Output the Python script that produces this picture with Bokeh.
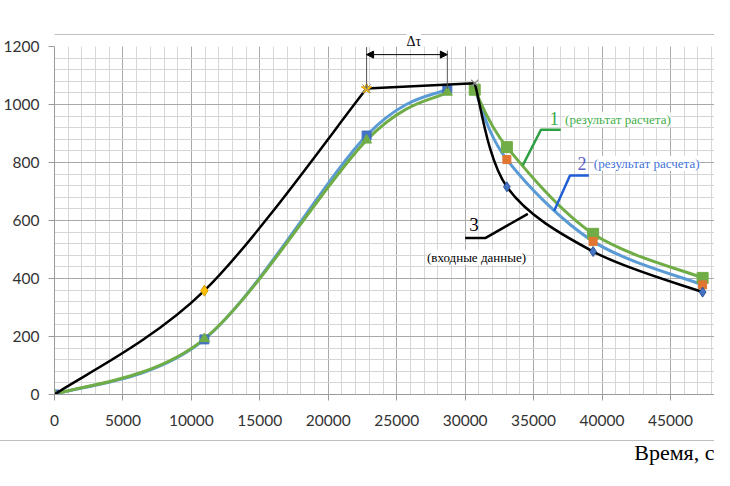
from bokeh.plotting import figure
from bokeh.models import (Label, Arrow, NormalHead, SingleIntervalTicker, Range1d, Title,
                          LinearAxis, FixedTicker)
from bokeh.embed import file_html
from bokeh.resources import INLINE

# ---------------- data ----------------
x_rise = [0, 10950, 22800, 28700]
green_rise = [0, 192, 877, 1042]
blue_rise = [0, 190, 893, 1054]

x_fall = [30700, 33050, 39350, 47350]
green_fall = [1051, 853, 554, 402]
blue_fall = [1051, 810, 528, 378]

x_in_rise = [0, 10950, 22800]
black_rise = [0, 358, 1055]
x_in_flat = [22800, 30700]
black_flat = [1055, 1073]
x_in_fall = [30700, 33050, 39350, 47350]
black_fall = [1073, 716, 493, 353]

x_tick_step = 5000
y_tick_step = 200
x_max = 48218
y_max = 1200

GREEN = "#70AD47"
BLUE = "#5B9BD5"
DBLUE = "#4472C4"
ORANGE = "#E07632"
GOLD = "#FFC000"
RULE = "#bfbfbf"


def smooth(xs, ys):
    """Bezier segments (Catmull-Rom style, like Excel's smoothed line) through the points."""
    n = len(xs)
    d = dict(x0=[], y0=[], x1=[], y1=[], cx0=[], cy0=[], cx1=[], cy1=[])
    for i in range(n - 1):
        xp, yp = (xs[i - 1], ys[i - 1]) if i > 0 else (xs[i], ys[i])
        xn, yn = (xs[i + 2], ys[i + 2]) if i + 2 < n else (xs[i + 1], ys[i + 1])
        d["x0"].append(xs[i]); d["y0"].append(ys[i])
        d["x1"].append(xs[i + 1]); d["y1"].append(ys[i + 1])
        d["cx0"].append(xs[i] + (xs[i + 1] - xp) / 6.0)
        d["cy0"].append(ys[i] + (ys[i + 1] - yp) / 6.0)
        d["cx1"].append(xs[i + 1] - (xn - xs[i]) / 6.0)
        d["cy1"].append(ys[i + 1] - (yn - ys[i]) / 6.0)
    return d


p = figure(width=714, height=478, output_backend="svg", toolbar_location=None,
           x_range=Range1d(0, x_max), y_range=Range1d(0, y_max),
           min_border_left=47, min_border_right=0, min_border_top=46, min_border_bottom=84)
p.title.visible = False
p.outline_line_color = None
p.background_fill_color = "white"
p.border_fill_color = None
# thin grey rule of the surrounding document box (y = 440 px)
p.styles = {
    "background-color": "white",
    "background-image": (f"linear-gradient(to bottom, transparent 0px, transparent 440px, "
                         f"{RULE} 440px, {RULE} 441px, transparent 441px, transparent 100%)"),
    "background-size": "100% 100%",
    "background-repeat": "no-repeat",
}

p.xaxis.ticker = SingleIntervalTicker(interval=x_tick_step, num_minor_ticks=5)
p.yaxis.ticker = SingleIntervalTicker(interval=y_tick_step, num_minor_ticks=5)
for g in (p.xgrid, p.ygrid):
    g.grid_line_color = "#a9a9a9"
    g.grid_line_width = 1
    g.minor_grid_line_color = "#d6d6d6"
    g.minor_grid_line_width = 1
for ax in (p.xaxis, p.yaxis):
    ax.axis_line_color = "#9a9a9a"
    ax.major_tick_line_color = "#9a9a9a"
    ax.minor_tick_line_color = None
    ax.major_tick_in = 0
    ax.major_tick_out = 6
    ax.major_label_text_font = "Lato"
    ax.major_label_text_font_size = "15.5px"
    ax.major_label_text_color = "#333333"
p.yaxis.major_label_standoff = 9
p.xaxis.major_label_standoff = 14

# ---- computed curves ----
for xs, ys, col in ((x_rise, blue_rise, BLUE), (x_rise, green_rise, GREEN)):
    p.bezier(line_color=col, line_width=3, **smooth(xs, ys))
p.scatter(x_rise, blue_rise, marker="square", size=9, fill_color=DBLUE, line_color=DBLUE)
p.scatter(x_rise, green_rise, marker="triangle", size=10, fill_color=GREEN, line_color=GREEN)

p.bezier(line_color=BLUE, line_width=3, **smooth(x_fall, blue_fall))
p.bezier(line_color=GREEN, line_width=3, **smooth(x_fall, green_fall))
p.scatter(x_fall, green_fall, marker="square", size=11, fill_color=GREEN, line_color=GREEN)
p.scatter(x_fall[1:], blue_fall[1:], marker="square", size=8, fill_color=ORANGE, line_color=ORANGE)

# ---- input data (black) ----
p.bezier(line_color="black", line_width=2.5, **smooth(x_in_rise, black_rise))
p.line(x_in_flat, black_flat, line_color="black", line_width=2.5)
p.bezier(line_color="black", line_width=2.5, **smooth(x_in_fall, black_fall))
p.scatter(x_in_rise[1:2], black_rise[1:2], marker="diamond", size=11, fill_color=GOLD, line_color="#d9a000")
p.scatter(x_in_rise[2:], black_rise[2:], marker="star", size=11, fill_color=GOLD, line_color="#d9a000")
p.scatter(x_in_rise[2:], black_rise[2:], marker="x", size=12, line_color="#8c8c8c", line_width=1)
p.scatter(x_in_flat[1:], black_flat[1:], marker="x", size=10, line_color="#8c8c8c", line_width=1.2)
p.scatter(x_in_fall[1:], black_fall[1:], marker="diamond", size=10, fill_color=DBLUE, line_color="#2f5597")

# ---- Δτ dimension ----
dt_left = x_in_rise[2]
dt_right = x_rise[3]
p.segment(x0=[dt_left, dt_right], y0=[black_rise[2], blue_rise[3]],
          x1=[dt_left, dt_right], y1=[1198, 1186], line_color="#555555", line_width=1)
p.add_layout(Arrow(x_start=dt_left, y_start=1172, x_end=dt_right, y_end=1172,
                   line_color="black", line_width=1,
                   start=NormalHead(size=7, fill_color="black", line_color="black"),
                   end=NormalHead(size=7, fill_color="black", line_color="black")))
p.add_layout(Title(text="Δτ", align="left", offset=352, text_font="Liberation Serif",
                   text_font_size="14px", text_font_style="normal", text_color="black",
                   background_fill_color="white", standoff=-5), "above")

# spacer + grey rule above the chart (document box border)
spacer = LinearAxis(ticker=FixedTicker(ticks=[]), axis_line_color=None, major_tick_out=8,
                    major_tick_in=0, major_label_standoff=0, minor_tick_out=0,
                    major_tick_line_color=None, minor_tick_line_color=None)
p.add_layout(spacer, "above")
rule_top = LinearAxis(ticker=FixedTicker(ticks=[]), axis_line_color=RULE, axis_line_width=1,
                      major_tick_out=0, major_tick_in=0, minor_tick_out=0, minor_tick_in=0,
                      major_label_standoff=0, major_tick_line_color=None, minor_tick_line_color=None)
p.add_layout(rule_top, "above")

# ---- curve labels with leader lines ----
p.line([36990, 35540, 34210], [913, 913, 790], line_color="#2ea043", line_width=2.5)
p.line([39040, 37660, 36510], [755, 755, 634], line_color="#1f5fd6", line_width=2.5)
p.line([30000, 31500, 34580], [540, 540, 623], line_color="black", line_width=2.5)

p.add_layout(Label(x=36510, y=952, text="1", text_font="Liberation Serif", text_font_size="19px",
                   text_align="center", text_baseline="middle", text_color="#3cae4a"))
p.add_layout(Label(x=37300, y=948, text="(результат расчета)", text_font="Liberation Serif",
                   text_font_size="13px", text_align="left", text_baseline="middle",
                   text_color="#3fae49", background_fill_color="white"))
p.add_layout(Label(x=38530, y=797, text="2", text_font="Liberation Serif", text_font_size="18px",
                   text_align="center", text_baseline="middle", text_color="#5b5fc7"))
p.add_layout(Label(x=39400, y=797, text="(результат расчета)", text_font="Liberation Serif",
                   text_font_size="13px", text_align="left", text_baseline="middle",
                   text_color="#3f73d6", background_fill_color="white"))
p.add_layout(Label(x=30650, y=586, text="3", text_font="Liberation Serif", text_font_size="19px",
                   text_align="center", text_baseline="middle", text_color="black"))
p.add_layout(Label(x=30830, y=473, text="(входные данные)", text_font="Liberation Serif",
                   text_font_size="13px", text_align="center", text_baseline="middle",
                   text_color="black", background_fill_color="white"))

# ---- axis title ----
p.add_layout(Title(text="Время, с", align="right", text_font="Liberation Serif",
                   text_font_size="22px", text_font_style="normal", text_color="black",
                   standoff=19), "below")

open("out.html", "w").write(file_html(p, INLINE))
